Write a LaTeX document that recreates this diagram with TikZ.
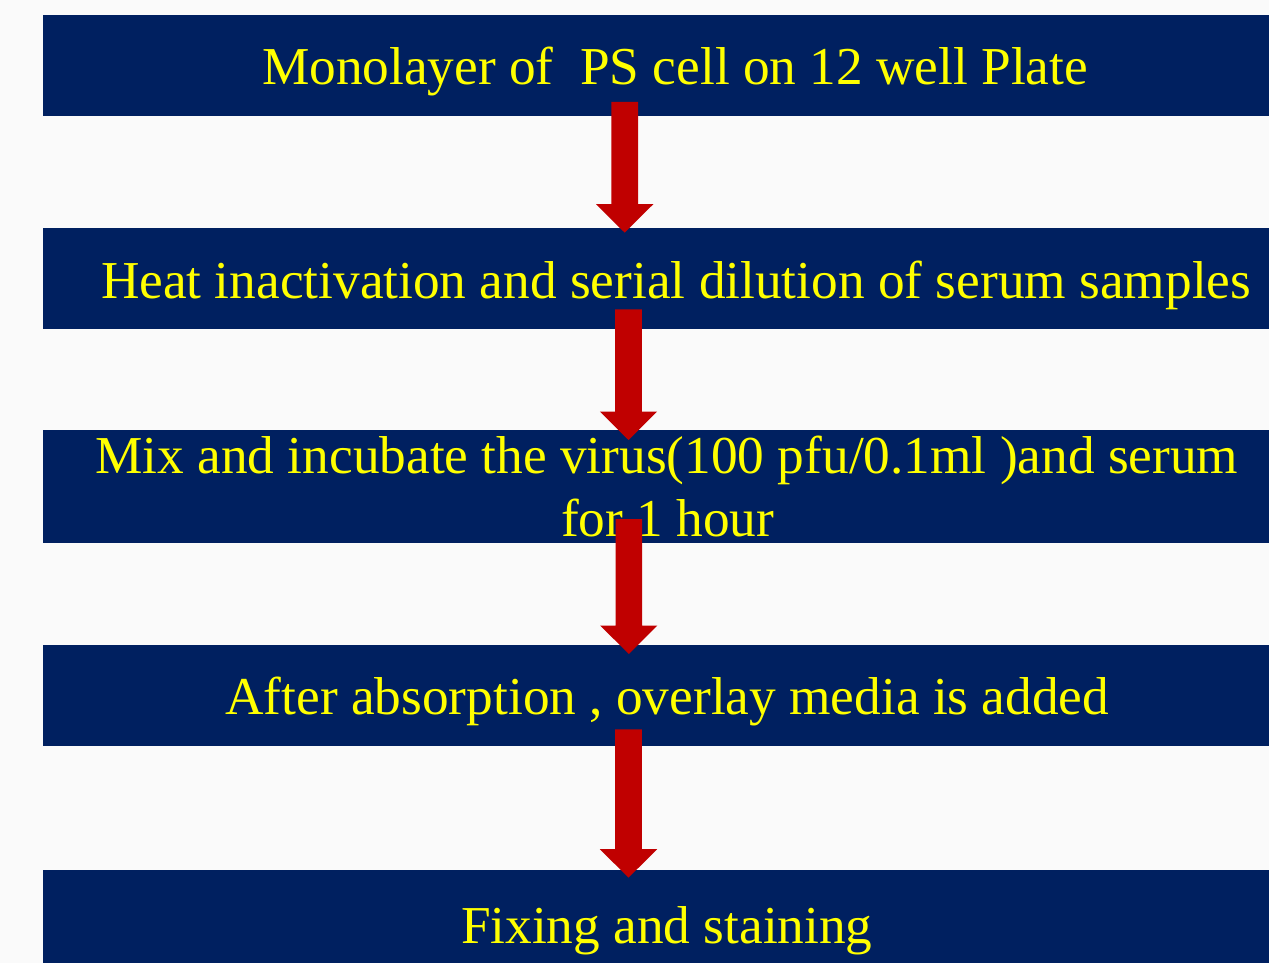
\documentclass[tikz,border=0pt]{standalone}
\usepackage{fontspec}
\setmainfont{Liberation Serif}
\usetikzlibrary{calc}
\definecolor{navy}{HTML}{002060}
\definecolor{arrowred}{HTML}{C00000}
\definecolor{bgcol}{HTML}{FAFAFA}
\definecolor{txtcol}{HTML}{FFFF00}
\newcommand\blockarrow[2]{%
  \fill[arrowred] let \p1=(#1), \p2=(#2) in
    (\x1-13.3pt,\y1) -- (\x1+13.3pt,\y1) -- (\x1+13.3pt,\y2+28.5pt) --
    (\x1+28.6pt,\y2+28.5pt) -- (\x2,\y2) -- (\x1-28.6pt,\y2+28.5pt) --
    (\x1-13.3pt,\y2+28.5pt) -- cycle;}
\begin{document}
\begin{tikzpicture}[x=1pt,y=-1pt,
  stepbox/.style={fill=navy, draw=none, rectangle, anchor=north west,
    inner sep=0pt, minimum width=1260pt, minimum height=#1},
  steptext/.style={text=txtcol, font=\fontsize{53.3}{64}\selectfont,
    anchor=base west, inner sep=0pt, outer sep=0pt}]
\useasboundingbox (0,0) rectangle (1269,963);
\fill[bgcol] (0,0) rectangle (1269,963);
\clip (0,0) rectangle (1269,963);
% boxes
\node[stepbox=101pt] (b1) at (43,15) {};
\node[stepbox=101pt] (b2) at (43,228) {};
\node[stepbox=113pt] (b3) at (43,430) {};
\node[stepbox=101pt] (b4) at (43,645) {};
\node[stepbox=110pt] (b5) at (43,870) {};
% texts
\node[steptext] (t1) at (262,84.3) {Monolayer of\ \ PS cell on 12 well Plate};
\node[steptext] (t2) at (101,298.3) {Heat inactivation and serial dilution of serum samples};
\node[steptext] (t3a) at (95.5,473) {Mix and incubate the virus(100 pfu/0.1ml )and serum};
\node[steptext] (t3b) at (561,536.7) {for 1 hour};
\node[steptext] (t4) at (225.5,714.3) {After absorption , overlay media is added};
\node[steptext] (t5) at (461,943.3) {Fixing and staining};
% arrow end points
\coordinate (a1s) at (624.7,102);
\coordinate (a1e) at (624.7,232.7);
\coordinate (a2s) at (628.5,309.3);
\coordinate (a2e) at (628.5,440);
\coordinate (a3s) at (628.8,519);
\coordinate (a3e) at (628.8,654);
\coordinate (a4s) at (628.5,729.3);
\coordinate (a4e) at (628.5,877.7);
\blockarrow{a1s}{a1e}
\blockarrow{a2s}{a2e}
\blockarrow{a3s}{a3e}
\blockarrow{a4s}{a4e}
\end{tikzpicture}
\end{document}
